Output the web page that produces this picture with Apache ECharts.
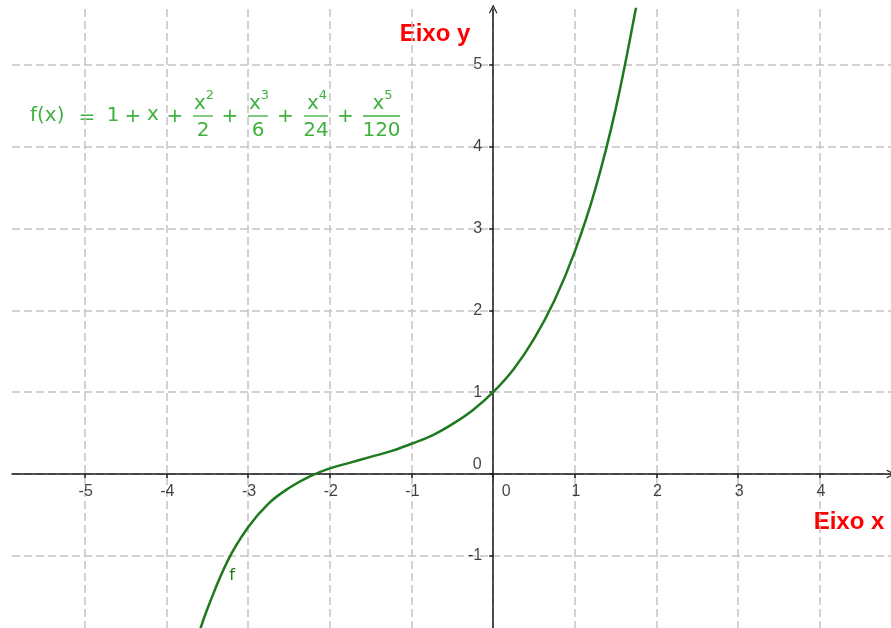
<!DOCTYPE html>
<html>
<head>
<meta charset="utf-8">
<script src="https://cdn.jsdelivr.net/npm/echarts@6/dist/echarts.min.js"></script>
<style>
  html, body { margin: 0; padding: 0; background: #fff; }
  #chart { width: 891px; height: 628px; }
</style>
</head>
<body>
<div id="chart"></div>
<script>
// visible window of the plot
const xRange = [-5.89, 4.87];
const yRange = [-1.88, 5.68];

// grid / tick positions
const xTicks = [-5, -4, -3, -2, -1, 0, 1, 2, 3, 4];
const yTicks = [-1, 0, 1, 2, 3, 4, 5];
const xTickLabels = [-5, -4, -3, -2, -1, 1, 2, 3, 4];
const yTickLabels = [-1, 1, 2, 3, 4, 5];

// curve f
const curveX = [-3.6, -3.5, -3.25, -3, -2.75, -2.5, -2.25, -2, -1.75, -1.5, -1.25, -1, -0.75, -0.5, -0.25, 0, 0.25, 0.5, 0.75, 1, 1.25, 1.5, 1.75, 1.8];
const curveY = [-1.94, -1.65, -1.06, -0.65, -0.36, -0.17, -0.03, 0.07, 0.14, 0.21, 0.28, 0.37, 0.47, 0.61, 0.78, 1, 1.28, 1.65, 2.12, 2.72, 3.48, 4.46, 5.70, 5.99];

const axisColor = '#1a1a1a';
const gridColor = '#c4c4c4';
const curveColor = '#1f7a1f';
const formulaColor = '#3fb13f';

const chart = echarts.init(document.getElementById('chart'));

// formula text pieces (annotation)
const mainFont = { fontFamily: 'DejaVu Sans', fontSize: 20, fill: formulaColor };
const fracFont = { fontFamily: 'DejaVu Sans', fontSize: 20, fill: formulaColor };
const supFont = { fontFamily: 'DejaVu Sans', fontSize: 13, fill: formulaColor };

function txt(x, y, text, font, align) {
  return { type: 'text', x: x, y: y, silent: true,
    style: Object.assign({ text: text, align: align || 'center', verticalAlign: 'middle' }, font) };
}
function frac(cx, x0, x1, sup, den) {
  return [
    txt(cx - 3, 104, 'x', fracFont),
    txt(cx + 7, 96, sup, supFont),
    { type: 'line', silent: true, shape: { x1: x0, y1: 116, x2: x1, y2: 116 }, style: { stroke: formulaColor, lineWidth: 1.3 } },
    txt(cx, 131, den, fracFont)
  ];
}

const formula = [].concat(
  [txt(30, 116, 'f(x)', mainFont, 'left'),
   txt(87, 118, '=', mainFont),
   txt(113, 116, '1', mainFont),
   txt(133, 117, '+', mainFont),
   txt(153, 115, 'x', mainFont),
   txt(175, 117, '+', mainFont)],
  frac(203, 193, 213, '2', '2'),
  [txt(230, 117, '+', mainFont)],
  frac(258, 248, 268, '3', '6'),
  [txt(285.5, 117, '+', mainFont)],
  frac(316, 304, 328, '4', '24'),
  [txt(345.5, 117, '+', mainFont)],
  frac(381.5, 363, 400, '5', '120')
);

const tickFont = { fontFamily: 'Liberation Sans', fontSize: 16, color: '#111', textBorderWidth: 0 };
const arrowPath = 'path://M0,10 L5,0 L10,10 L8.8,10.6 L5,3 L1.2,10.6 Z';

function axisOpt(range, ticks) {
  return {
    type: 'value',
    min: range[0],
    max: range[1],
    axisLine: { show: true, onZero: true, symbol: ['none', arrowPath], symbolSize: [9, 9],
      lineStyle: { color: axisColor, width: 1.5 } },
    axisTick: { show: true, customValues: ticks, length: 4, lineStyle: { color: axisColor, width: 1.5 } },
    axisLabel: { show: false },
    splitLine: { show: true, lineStyle: { color: gridColor, width: 1.5, type: [8, 4] } }
  };
}

chart.setOption({
  animation: false,
  grid: { left: 12, top: 9, right: 0, bottom: 0, containLabel: false, outerBoundsMode: 'none' },
  xAxis: axisOpt(xRange, xTicks),
  yAxis: axisOpt(yRange, yTicks),
  series: [
    {
      name: 'f',
      type: 'line',
      data: curveX.map((x, i) => [x, curveY[i]]),
      smooth: 0.4,
      showSymbol: false,
      clip: true,
      lineStyle: { color: curveColor, width: 2.5 },
      z: 5
    },
    {
      // tick labels along the x axis
      type: 'scatter',
      symbolSize: 0,
      silent: true,
      clip: false,
      data: xTickLabels.map(v => [v, 0]),
      label: Object.assign({ show: true, position: 'inside', offset: [1, 18],
        formatter: p => String(p.value[0]) }, tickFont)
    },
    {
      // tick labels along the y axis
      type: 'scatter',
      symbolSize: 0,
      silent: true,
      clip: false,
      data: yTickLabels.map(v => [0, v]),
      label: Object.assign({ show: true, position: 'left', distance: 11,
        formatter: p => String(p.value[1]) }, tickFont)
    },
    {
      // the two "0" labels at the origin
      type: 'scatter',
      symbolSize: 0,
      silent: true,
      data: [
        { value: [0, 0], label: { offset: [13, 18] } },
        { value: [0, 0], label: { offset: [-16, -9] } }
      ],
      label: Object.assign({ show: true, position: 'inside', formatter: '0' }, tickFont)
    }
  ],
  graphic: formula.concat([
    { type: 'text', x: 435, y: 34, silent: true,
      style: { text: 'Eixo y', align: 'center', verticalAlign: 'middle', fill: '#ff0000',
        fontFamily: 'Liberation Sans', fontWeight: 'bold', fontSize: 24 } },
    { type: 'text', x: 849, y: 522, silent: true,
      style: { text: 'Eixo x', align: 'center', verticalAlign: 'middle', fill: '#ff0000',
        fontFamily: 'Liberation Sans', fontWeight: 'bold', fontSize: 24 } },
    { type: 'text', x: 232, y: 576, silent: true,
      style: { text: 'f', align: 'center', verticalAlign: 'middle', fill: curveColor,
        fontFamily: 'DejaVu Sans', fontSize: 16 } }
  ])
});
</script>
</body>
</html>
